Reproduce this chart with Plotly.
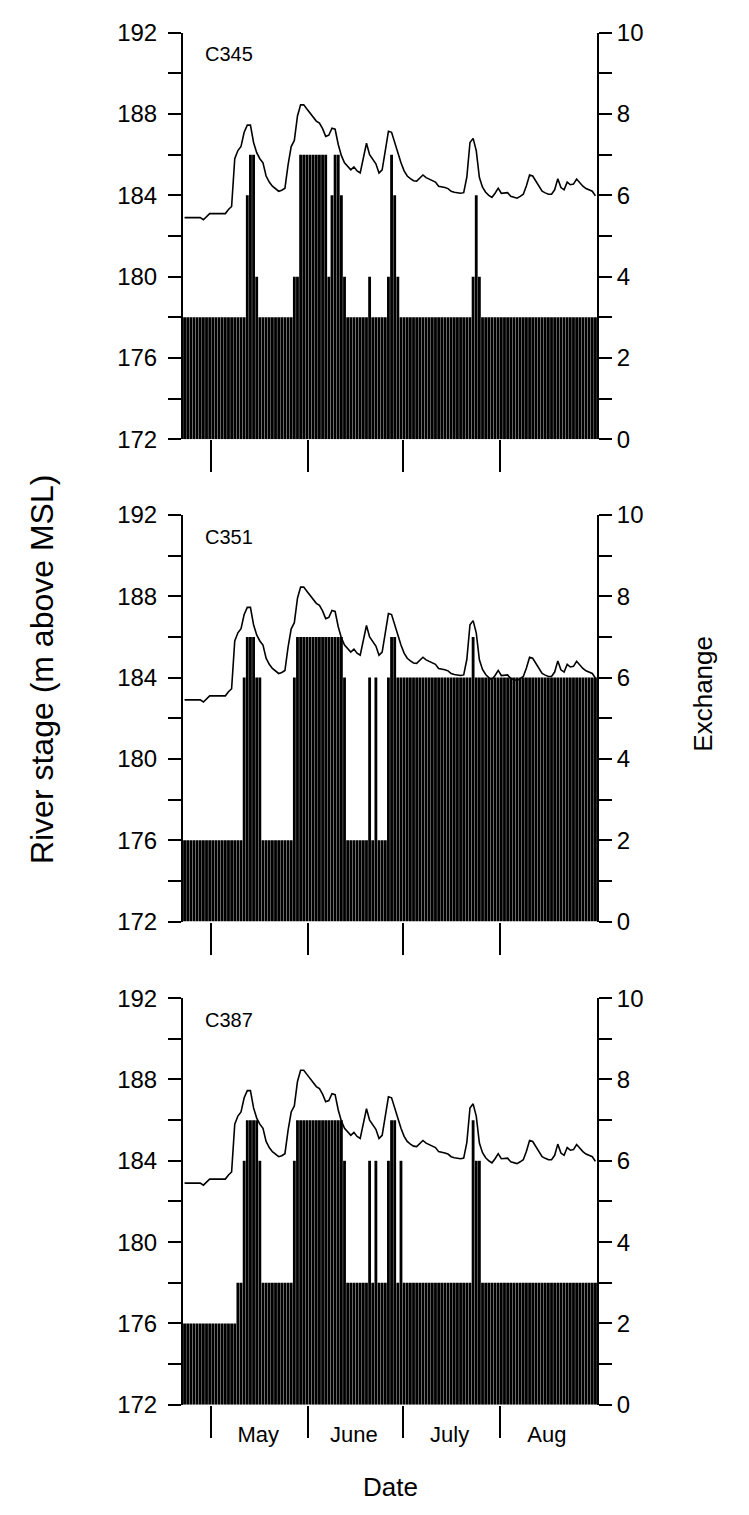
import plotly.graph_objects as go
import pandas as pd

# ---- data ----
start_date = "2000-04-22"
n_days = 132
dates = pd.date_range(start_date + " 12:00", periods=n_days, freq="D")

river_stage = [
    182.9, 182.9, 182.9, 182.9, 182.9, 182.9, 182.8, 182.95, 183.1, 183.1,
    183.1, 183.1, 183.1, 183.1, 183.3, 183.45, 185.8, 186.2, 186.4, 187.1,
    187.45, 187.45, 186.6, 186.1, 185.8, 185.6, 184.95, 184.65, 184.45, 184.3,
    184.2, 184.25, 184.35, 185.5, 186.4, 186.7, 187.9, 188.45, 188.45, 188.25,
    188.05, 187.85, 187.65, 187.55, 187.28, 186.9, 186.96, 187.3, 187.25, 186.5,
    185.95, 185.6, 185.4, 185.25, 185.4, 185.2, 185.1, 185.9, 186.56, 186.0,
    185.8, 185.55, 185.1, 185.25, 186.2, 187.15, 187.1, 186.6, 186.0, 185.6,
    185.2, 184.95, 184.82, 184.72, 184.7, 184.85, 185.0, 184.87, 184.8, 184.75,
    184.65, 184.45, 184.43, 184.38, 184.33, 184.2, 184.15, 184.12, 184.1, 184.13,
    184.9, 186.6, 186.8, 186.2, 184.87, 184.4, 184.15, 184.0, 183.9, 184.1,
    184.35, 184.1, 184.13, 184.13, 183.95, 183.92, 183.86, 183.95, 184.05, 184.47,
    185.0, 184.95, 184.7, 184.45, 184.2, 184.12, 184.05, 184.05, 184.27, 184.82,
    184.38, 184.27, 184.65, 184.52, 184.55, 184.8, 184.6, 184.45, 184.33, 184.25,
    184.2, 183.97,
]

exchange_c345 = (
    [3] * 20 + [6, 7, 7, 4] + [3] * 11 + [4, 4] + [7] * 9 + [4, 6, 7, 7, 6, 4]
    + [3] * 7 + [4] + [3] * 5 + [4, 7, 6, 4] + [3] * 23 + [4, 6, 4] + [3] * 37
)
exchange_c351 = (
    [2] * 19 + [6, 7, 7, 7, 6, 6] + [2] * 10 + [6] + [7] * 15 + [6]
    + [2] * 7 + [6, 2, 6] + [2] * 3 + [6, 7, 7, 6] + [6] * 23 + [7] + [6] * 39
)
exchange_c387 = (
    [2] * 17 + [3, 3, 6, 7, 7, 7, 7, 6] + [3] * 10 + [6] + [7] * 15 + [6]
    + [3] * 7 + [6, 3, 6] + [3] * 3 + [6, 7, 7, 3, 6] + [3] * 22 + [7, 6, 6] + [3] * 37
)

panel_names = ["C345", "C351", "C387"]
panel_exchange = [exchange_c345, exchange_c351, exchange_c387]

month_bounds = ["2000-05-01", "2000-06-01", "2000-07-01", "2000-08-01"]
month_label_pos = ["2000-05-16", "2000-06-15 12:00", "2000-07-16", "2000-08-16"]
month_labels = ["May", "June", "July", "Aug"]

stage_ticks = [172, 176, 180, 184, 188, 192]
exchange_ticks = [0, 2, 4, 6, 8, 10]

# ---- layout geometry (pixels) ----
W, H = 749, 1515
x_left, x_right = 183, 597
panel_tops = [19, 510, 1002]
panel_h = 414
FONT = "Arial, Liberation Sans, sans-serif"

fig = go.Figure()
layout = dict(
    width=W, height=H,
    margin=dict(l=0, r=0, t=0, b=0),
    paper_bgcolor="white", plot_bgcolor="white",
    showlegend=False, bargap=0.1,
    font=dict(family=FONT, color="black", size=22),
)

day_ms = 86400000
xrange = [pd.Timestamp(start_date), pd.Timestamp(start_date) + pd.Timedelta(days=n_days)]

annotations = []
for k in range(3):
    xa = "x" if k == 0 else f"x{k+1}"
    ya_l = "y" if k == 0 else f"y{2*k+1}"
    ya_r = f"y{2*k+2}"
    top = panel_tops[k]
    bot = top + panel_h
    dom_y = [1 - bot / H, 1 - top / H]

    fig.add_trace(go.Bar(
        x=dates, y=panel_exchange[k], xaxis=xa, yaxis=ya_r,
        marker=dict(color="black", line=dict(width=0)),
        width=day_ms * 0.9,
    ))
    fig.add_trace(go.Scatter(
        x=dates, y=river_stage, xaxis=xa, yaxis=ya_l, mode="lines",
        line=dict(color="black", width=1.6),
    ))

    xkey = "xaxis" if k == 0 else f"xaxis{k+1}"
    ylkey = "yaxis" if k == 0 else f"yaxis{2*k+1}"
    yrkey = f"yaxis{2*k+2}"
    last = (k == 2)
    layout[xkey] = dict(
        domain=[x_left / W, x_right / W], anchor=ya_l, type="date",
        range=xrange, showgrid=False, zeroline=False, showline=False,
        tickmode="array", tickvals=month_label_pos,
        ticktext=month_labels if last else ["", "", "", ""],
        ticks="outside", ticklen=10, tickcolor="rgba(0,0,0,0)",
        showticklabels=last,
        tickfont=dict(size=22, family=FONT),
        minor=dict(tickmode="array", tickvals=month_bounds, ticks="outside",
                   ticklen=32, tickwidth=2, tickcolor="black", showgrid=False),
    )
    layout[ylkey] = dict(
        domain=dom_y, anchor=xa, range=[172, 192], side="left",
        tickmode="array", tickvals=stage_ticks, ticks="outside", ticklen=13,
        tickwidth=2, tickcolor="black", showline=True, linewidth=2,
        linecolor="black", showgrid=False, zeroline=False,
        ticklabelstandoff=6,
        tickfont=dict(size=24, family=FONT),
        minor=dict(dtick=2, tick0=172, ticks="outside", ticklen=13,
                   tickwidth=2, tickcolor="black", showgrid=False),
    )
    layout[yrkey] = dict(
        domain=dom_y, anchor=xa, overlaying=ya_l, range=[0, 10], side="right",
        tickmode="array", tickvals=exchange_ticks, ticks="outside", ticklen=13,
        tickwidth=2, tickcolor="black", showline=True, linewidth=2,
        linecolor="black", showgrid=False, zeroline=False,
        tickfont=dict(size=24, family=FONT),
        minor=dict(dtick=1, tick0=0, ticks="outside", ticklen=13,
                   tickwidth=2, tickcolor="black", showgrid=False),
    )
    annotations.append(dict(
        text=panel_names[k], xref="paper", yref="paper",
        x=203 / W, y=1 - (top + 22) / H, xanchor="left", yanchor="middle",
        showarrow=False, font=dict(size=20, family=FONT),
    ))

annotations.append(dict(
    text="River stage (m above MSL)", xref="paper", yref="paper",
    x=42 / W, y=1 - 668 / H, textangle=-90, xanchor="center", yanchor="middle",
    showarrow=False, font=dict(size=32, family=FONT),
))
annotations.append(dict(
    text="Exchange", xref="paper", yref="paper",
    x=703 / W, y=1 - 692 / H, textangle=-90, xanchor="center", yanchor="middle",
    showarrow=False, font=dict(size=26, family=FONT),
))
annotations.append(dict(
    text="Date", xref="paper", yref="paper",
    x=(x_left + x_right) / 2 / W, y=1 - 1500 / H, xanchor="center", yanchor="middle",
    showarrow=False, font=dict(size=26, family=FONT),
))
layout["annotations"] = annotations

fig.update_layout(**layout)
fig.write_html("out.html")
